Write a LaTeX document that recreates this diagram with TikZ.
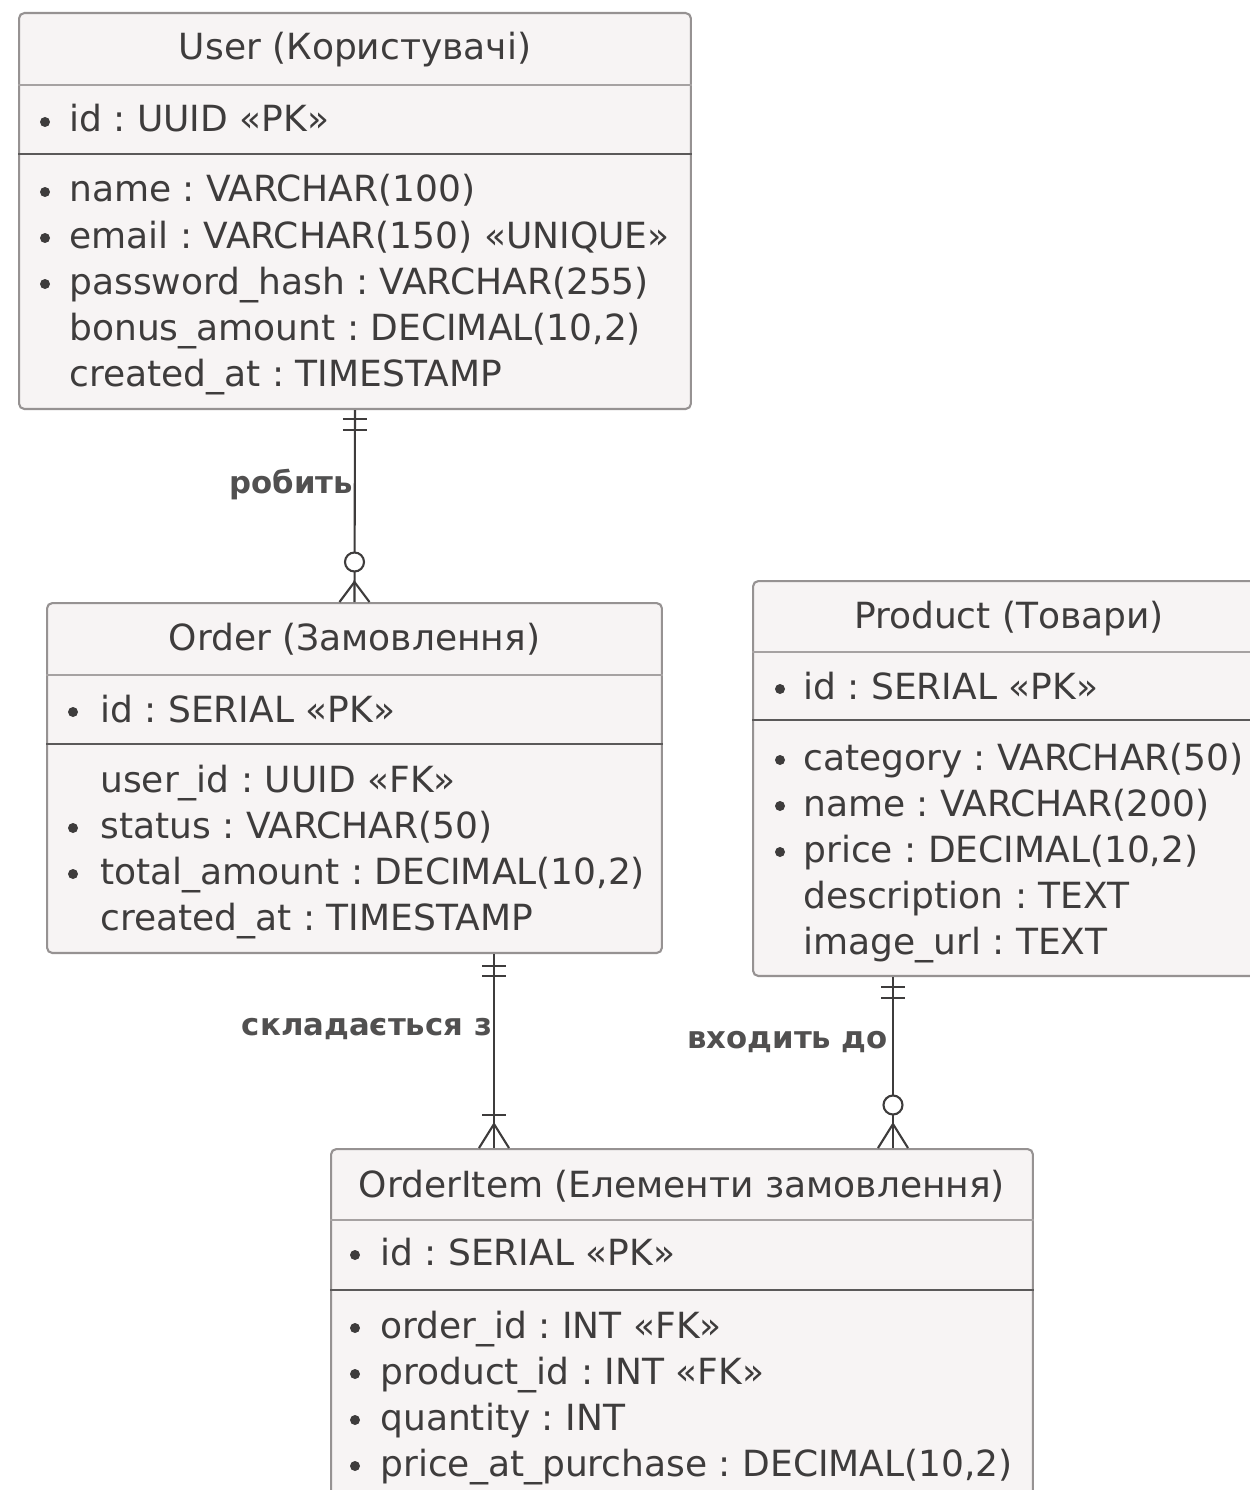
\documentclass[tikz,border=0pt]{standalone}
\usepackage{fontspec}
\setmainfont{DejaVu Sans}
\usetikzlibrary{calc}
\frenchspacing

\definecolor{boxfill}{RGB}{247,244,244}
\definecolor{boxline}{RGB}{150,146,146}
\definecolor{txt}{RGB}{62,60,60}

\begin{document}
\begin{tikzpicture}[x=0.02cm, y=-0.02cm,
    entity/.style={draw=boxline, fill=boxfill, line width=1.2pt, rounded corners=3pt, anchor=north west, inner sep=0pt},
    etitle/.style={text=txt, anchor=base, inner sep=0pt, font=\fontsize{20.5}{24}\selectfont},
    field/.style={text=txt, anchor=base west, inner sep=0pt, font=\fontsize{20.5}{24}\selectfont},
    septhin/.style={draw=boxline!85, line width=1.1pt},
    septhick/.style={draw=txt!85, line width=1.6pt},
    rel/.style={draw=txt, line width=1.2pt},
    rellabel/.style={text=txt!90, anchor=east, inner sep=1pt, font=\bfseries\fontsize{17.5}{21}\selectfont}]

  \clip (0,0) rectangle (1250,1490);

  % User
  \node[entity, minimum width=13.44cm, minimum height=7.92cm] (user) at (18,12) {};
  \node[etitle] (usert) at ($(user.north)+(0,48)$) {User (Користувачі)};
  \draw[septhin] ($(user.north west)+(0,73)$) -- ($(user.north east)+(0,73)$);
  \node[field] (userpk) at ($(user.north west)+(51,120)$) {id : UUID «PK»};
  \draw[septhick] ($(user.north west)+(0,142)$) -- ($(user.north east)+(0,142)$);
  \foreach \t [count=\i from 0] in {{name : VARCHAR(100)}, {email : VARCHAR(150) «UNIQUE»},
      {password\_hash : VARCHAR(255)}, {bonus\_amount : DECIMAL(10,2)}, {created\_at : TIMESTAMP}}
    \node[field] (user\i) at ($(user.north west)+(51,190+46*\i)$) {\t};
  \foreach \i in {0,1,2}
    \fill[txt] ($(user.north west)+(27,180+46*\i)$) circle[radius=0.1cm];
  \fill[txt] ($(user.north west)+(27,110)$) circle[radius=0.1cm];

  % Order
  \node[entity, minimum width=12.3cm, minimum height=7cm] (order) at (46,602) {};
  \node[etitle] (ordert) at ($(order.north)+(0,48)$) {Order (Замовлення)};
  \draw[septhin] ($(order.north west)+(0,73)$) -- ($(order.north east)+(0,73)$);
  \node[field] (orderpk) at ($(order.north west)+(54,120)$) {id : SERIAL «PK»};
  \draw[septhick] ($(order.north west)+(0,142)$) -- ($(order.north east)+(0,142)$);
  \foreach \t [count=\i from 0] in {{user\_id : UUID «FK»}, {status : VARCHAR(50)},
      {total\_amount : DECIMAL(10,2)}, {created\_at : TIMESTAMP}}
    \node[field] (order\i) at ($(order.north west)+(54,190+46*\i)$) {\t};
  \foreach \i in {1,2}
    \fill[txt] ($(order.north west)+(27,180+46*\i)$) circle[radius=0.1cm];
  \fill[txt] ($(order.north west)+(27,110)$) circle[radius=0.1cm];

  % Product
  \node[entity, minimum width=10.24cm, minimum height=7.9cm] (prod) at (752,580) {};
  \node[etitle] (prodt) at ($(prod.north)+(0,48)$) {Product (Товари)};
  \draw[septhin] ($(prod.north west)+(0,72)$) -- ($(prod.north east)+(0,72)$);
  \node[field] (prodpk) at ($(prod.north west)+(51,119)$) {id : SERIAL «PK»};
  \draw[septhick] ($(prod.north west)+(0,140)$) -- ($(prod.north east)+(0,140)$);
  \foreach \t [count=\i from 0] in {{category : VARCHAR(50)}, {name : VARCHAR(200)},
      {price : DECIMAL(10,2)}, {description : TEXT}, {image\_url : TEXT}}
    \node[field] (prod\i) at ($(prod.north west)+(51,190+46*\i)$) {\t};
  \foreach \i in {0,1,2}
    \fill[txt] ($(prod.north west)+(28,180+46*\i)$) circle[radius=0.1cm];
  \fill[txt] ($(prod.north west)+(28,109)$) circle[radius=0.1cm];

  % OrderItem
  \node[entity, minimum width=14.04cm, minimum height=8cm] (item) at (330,1148) {};
  \node[etitle] (itemt) at ($(item.north)+(0,49)$) {OrderItem (Елементи замовлення)};
  \draw[septhin] ($(item.north west)+(0,72)$) -- ($(item.north east)+(0,72)$);
  \node[field] (itempk) at ($(item.north west)+(50,117)$) {id : SERIAL «PK»};
  \draw[septhick] ($(item.north west)+(0,142)$) -- ($(item.north east)+(0,142)$);
  \foreach \t [count=\i from 0] in {{order\_id : INT «FK»}, {product\_id : INT «FK»},
      {quantity : INT}, {price\_at\_purchase : DECIMAL(10,2)}}
    \node[field] (item\i) at ($(item.north west)+(50,190+46*\i)$) {\t};
  \foreach \i in {0,1,2,3}
    \fill[txt] ($(item.north west)+(25,180+46*\i)$) circle[radius=0.1cm];
  \fill[txt] ($(item.north west)+(25,107)$) circle[radius=0.1cm];

  % relations
  \coordinate (c2) at (494,0);
  \coordinate (c3) at (893,0);

  % user -> order
  \draw[rel] (user.south) -- (order.north);
  \draw[rel] ($(user.south)+(-12,9)$) -- ++(24,0);
  \draw[rel] ($(user.south)+(-12,20)$) -- ++(24,0);
  \draw[rel, fill=white] ($(order.north)+(0,-40)$) circle[radius=0.19cm];
  \draw[rel] ($(order.north)+(-15,0)$) -- ($(order.north)+(0,-20)$) -- ($(order.north)+(15,0)$);
  \node[rellabel] (l1) at ($(user.south)+(0,74)$) {робить};

  % order -> item
  \draw[rel] (order.south -| c2) -- (item.north -| c2);
  \draw[rel] ($(order.south -| c2)+(-12,12)$) -- ++(24,0);
  \draw[rel] ($(order.south -| c2)+(-12,22)$) -- ++(24,0);
  \draw[rel] ($(item.north -| c2)+(-12,-33)$) -- ++(24,0);
  \draw[rel] ($(item.north -| c2)+(-15,0)$) -- ($(item.north -| c2)+(0,-24)$) -- ($(item.north -| c2)+(15,0)$);
  \node[rellabel] (l2) at ($(order.south -| c2)+(0,75)$) {складається з};

  % product -> item
  \draw[rel] (prod.south -| c3) -- (item.north -| c3);
  \draw[rel] ($(prod.south -| c3)+(-12,10)$) -- ++(24,0);
  \draw[rel] ($(prod.south -| c3)+(-12,21)$) -- ++(24,0);
  \draw[rel, fill=white] ($(item.north -| c3)+(0,-43)$) circle[radius=0.19cm];
  \draw[rel] ($(item.north -| c3)+(-15,0)$) -- ($(item.north -| c3)+(0,-24)$) -- ($(item.north -| c3)+(15,0)$);
  \node[rellabel] (l3) at ($(prod.south -| c3)+(-3,65)$) {входить до};
\end{tikzpicture}
\end{document}
